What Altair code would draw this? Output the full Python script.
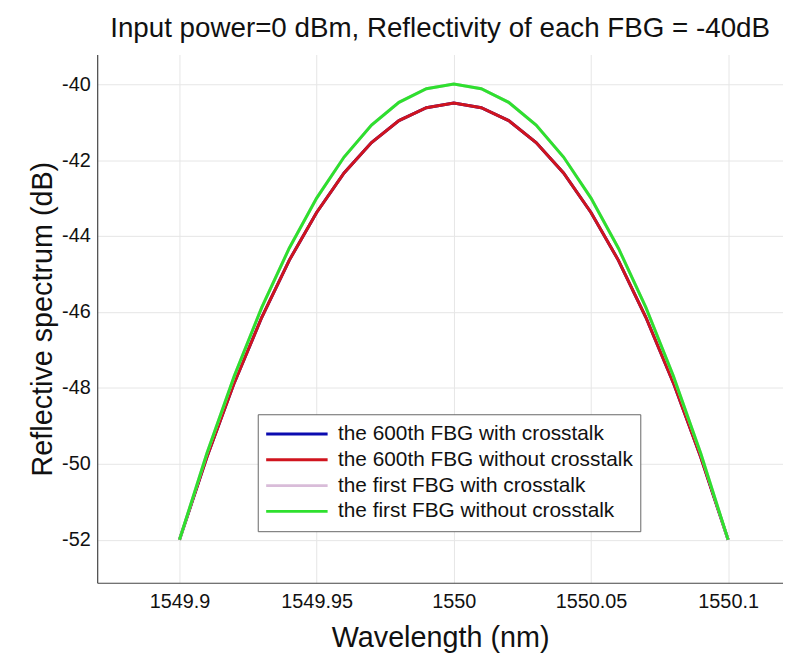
import altair as alt
import pandas as pd

# Wavelength samples (nm)
wavelength = [1549.90, 1549.91, 1549.92, 1549.93, 1549.94, 1549.95, 1549.96, 1549.97,
              1549.98, 1549.99, 1550.00, 1550.01, 1550.02, 1550.03, 1550.04, 1550.05,
              1550.06, 1550.07, 1550.08, 1550.09, 1550.10]

# Reflective spectrum (dB)
fbg600_with = [-52.0, -49.82, -47.86, -46.14, -44.64, -43.38, -42.34, -41.54, -40.96, -40.62, -40.5,
               -40.62, -40.96, -41.54, -42.34, -43.38, -44.64, -46.14, -47.86, -49.82, -52.0]
fbg600_without = [-52.0, -49.82, -47.86, -46.14, -44.64, -43.38, -42.34, -41.54, -40.96, -40.62, -40.5,
                  -40.62, -40.96, -41.54, -42.34, -43.38, -44.64, -46.14, -47.86, -49.82, -52.0]
first_with = [-52.0, -49.72, -47.68, -45.88, -44.32, -43.0, -41.92, -41.08, -40.48, -40.12, -40.0,
              -40.12, -40.48, -41.08, -41.92, -43.0, -44.32, -45.88, -47.68, -49.72, -52.0]
first_without = [-52.0, -49.72, -47.68, -45.88, -44.32, -43.0, -41.92, -41.08, -40.48, -40.12, -40.0,
                 -40.12, -40.48, -41.08, -41.92, -43.0, -44.32, -45.88, -47.68, -49.72, -52.0]

series_names = ["the 600th FBG with crosstalk", "the 600th FBG without crosstalk",
                "the first FBG with crosstalk", "the first FBG without crosstalk"]
series_values = [fbg600_with, fbg600_without, first_with, first_without]
series_colors = ["#0b0bb0", "#d0141e", "#d9bcd9", "#2ee02e"]
series_widths = [3, 3, 1.5, 3]

x_ticks = [1549.9, 1549.95, 1550.0, 1550.05, 1550.1]
y_ticks = [-52, -50, -48, -46, -44, -42, -40]

rows = []
for name, vals in zip(series_names, series_values):
    for w, v in zip(wavelength, vals):
        rows.append({"Wavelength": w, "Reflect": v, "series": name})
df = pd.DataFrame(rows)

FONT = "Liberation Sans"

legend = alt.Legend(
    title=None, orient="none", legendX=162, legendY=363,
    symbolType="stroke", symbolSize=3844, symbolStrokeWidth=3,
    labelFontSize=21, labelFont=FONT, labelColor="#111", labelLimit=500,
    strokeColor="#666", fillColor="white", padding=7, rowPadding=0,
    clipHeight=26, labelOffset=9,
)

chart = alt.Chart(df).mark_line(clip=True).encode(
    x=alt.X("Wavelength:Q",
            scale=alt.Scale(domain=[1549.87, 1550.12], nice=False, zero=False),
            axis=alt.Axis(values=x_ticks, labelExpr="'' + datum.value",
                          title="Wavelength (nm)", titlePadding=12, labelPadding=9)),
    y=alt.Y("Reflect:Q",
            scale=alt.Scale(domain=[-53.13, -39.22], nice=False, zero=False),
            axis=alt.Axis(values=y_ticks, labelExpr="'' + datum.value",
                          title="Reflective spectrum (dB)")),
    color=alt.Color("series:N", sort=series_names,
                    scale=alt.Scale(domain=series_names, range=series_colors),
                    legend=legend),
    strokeWidth=alt.StrokeWidth("series:N", sort=series_names,
                                scale=alt.Scale(domain=series_names, range=series_widths),
                                legend=legend),
).properties(
    width=692, height=533,
    autosize=alt.AutoSizeParams(type="none"),
    padding={"left": 90, "top": 44, "right": 0, "bottom": 71},
    title=alt.Title("Input power=0 dBm, Reflectivity of each FBG = -40dB",
                    font=FONT, fontSize=28, fontWeight="normal", color="#111",
                    anchor="middle", offset=12),
).configure_view(stroke=None).configure_axis(
    domainColor="#444", domainWidth=1.2,
    gridColor="#e6e6e6", gridWidth=1,
    ticks=False,
    labelFont=FONT, labelFontSize=20, labelColor="#111", labelPadding=7,
    titleFont=FONT, titleFontSize=29, titleFontWeight="normal", titleColor="#111",
)

chart.save("out.html", embed_options={"renderer": "svg", "actions": False})
